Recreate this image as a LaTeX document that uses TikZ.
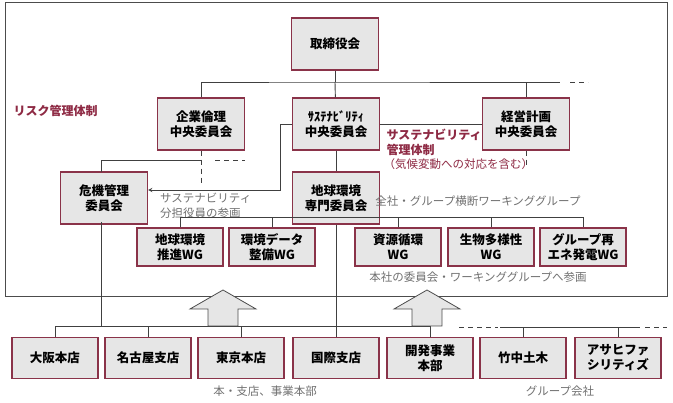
\documentclass[tikz,border=0pt]{standalone}
\usepackage{fontspec}
\setmainfont{Noto Sans CJK JP}
\definecolor{boxred}{HTML}{8A3349}
\definecolor{boxgray}{HTML}{E6E6E6}
\definecolor{txtred}{HTML}{8E2A44}
\definecolor{txtgray}{HTML}{707070}
\begin{document}
\begin{tikzpicture}[x=1pt, y=-1pt,
    org/.style={draw=boxred, fill=boxgray, line width=1.2pt, font=\bfseries\fontsize{12.5}{15}\selectfont,
      align=center, minimum width=87pt, minimum height=52pt, inner sep=1pt},
    wg/.style={org, minimum width=86pt, minimum height=38pt},
    base/.style={org, minimum width=86pt, minimum height=41pt},
    line/.style={draw=black!75, line width=0.9pt},
    dashline/.style={line, dash pattern=on 5pt off 4pt},
    note/.style={text=txtgray, font=\fontsize{11.5}{15}\selectfont, align=left},
    rednote/.style={text=txtred, font=\bfseries\fontsize{12}{15}\selectfont, align=left}
]
    \useasboundingbox (0,0) rectangle (673,403);
    \draw[line width=1pt, black!70] (5,3) rectangle (667,297);

    % committees
    \node[org] (board) at (335,44) {取締役会};
    \node[org] (ethics) at (201,124) {企業倫理\\中央委員会};
    \node[org] (sustc) at (336,124) {ｻｽﾃﾅﾋﾞﾘﾃｨ\\中央委員会};
    \node[org] (plan) at (526,124) {経営計画\\中央委員会};
    \node[org] (crisis) at (104,198) {危機管理\\委員会};
    \node[org] (env) at (336,198) {地球環境\\専門委員会};

    \coordinate (topbus) at (335,82);
    \draw[line] (board) -- (topbus);
    \draw[line] (ethics.north) |- (topbus) -| (plan.north);
    \draw[line] (plan.north) |- (560,82);
    \draw[dashline] (570,82) -- (588,82);
    \draw[line] (topbus) -- (sustc);
    \draw[line] (sustc) -- (plan);
    \draw[line] (sustc) -- (env);
    \draw[dashline] (ethics.south) -- (201,184);
    \draw[dashline] (plan.south) -- (526,168);
    \draw[line] (101,172) |- (201,160);
    \draw[dashline] (215,160) -- (245,160);
    \draw[line, -stealth] (sustc.west) -- (280,124) |- (crisis.east |- 0,190);

    % labels
    \node[rednote, anchor=west] at (10,111) {リスク管理体制};
    \node[rednote, anchor=west] at (383,142) {サステナビリティ\\管理体制};
    \node[text=txtred, font=\fontsize{11.5}{14}\selectfont, anchor=west] at (380,164) {（気候変動への対応を含む）};
    \node[note, anchor=north west, inner sep=0pt] at (160,193) {サステナビリティ\\分担役員の参画};
    \node[note] at (478,201) {全社・グループ横断ワーキンググループ};
    \node[note] at (478,277) {本社の委員会・ワーキンググループへ参画};

    % working groups
    \node[wg] (wga) at (180,247) {地球環境\\推進WG};
    \node[wg] (wgb) at (272,247) {環境データ\\整備WG};
    \node[wg] (wgc) at (398,247) {資源循環\\WG};
    \node[wg] (wgd) at (491,247) {生物多様性\\WG};
    \node[wg] (wge) at (583,247) {グループ再\\エネ発電WG};
    \draw[line] (wga.north) -- ++(0,-10) -| (wge.north);
    \foreach \w in {wgb,wgc,wgd}
        \draw[line] (\w.north) -- ++(0,-10);

    % bottom units
    \node[base] (osaka) at (55,358) {大阪本店};
    \node[base] (nagoya) at (148,358) {名古屋支店};
    \node[base] (tokyo) at (241,358) {東京本店};
    \node[base] (intl) at (336,358) {国際支店};
    \node[base] (dev) at (430,358) {開発事業\\本部};
    \node[base] (doboku) at (523,358) {竹中土木};
    \node[base] (asahi) at (618,358) {アサヒファ\\シリティズ};

    \draw[line] (osaka.north) -- ++(0,-10) -| (dev.north);
    \foreach \u in {nagoya,tokyo}
        \draw[line] (\u.north) -- ++(0,-10);
    \draw[line] (env) -- (intl);
    \draw[line] (101,222) -- (101,327);
    \draw[dashline] (459,327) -- (498,327);
    \draw[line] (500,327) -- (640,327);
    \draw[line] (doboku.north) -- ++(0,-10);
    \draw[line] (asahi.north) -- ++(0,-10);
    \draw[dashline] (645,327) -- (667,327);

    \node[note] at (265,391) {本・支店、事業本部};
    \node[note] at (560,391) {グループ会社};

    % block arrows
    \foreach \x in {223,427}
        \draw[black!70, fill=boxgray, line width=0.8pt]
            (\x,290) -- ++(33,19) -- ++(-18,0) -- ++(0,17) -- ++(-30,0) -- ++(0,-17) -- ++(-18,0) -- cycle;
\end{tikzpicture}
\end{document}
